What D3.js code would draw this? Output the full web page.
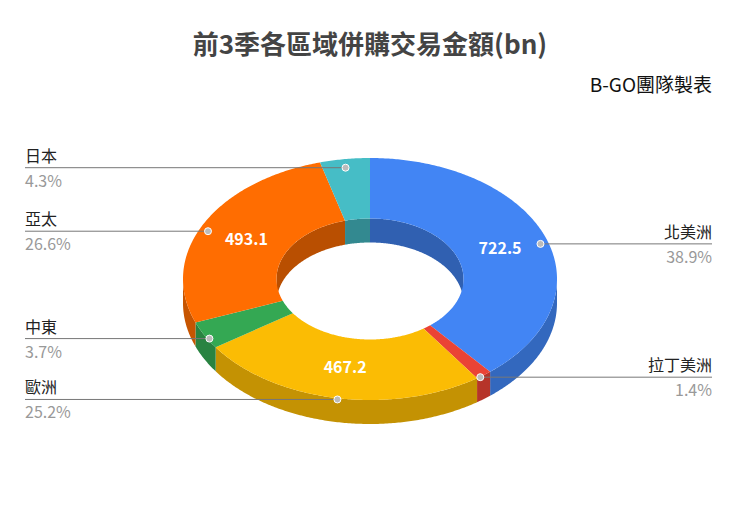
<!DOCTYPE html>
<head>
<meta charset="utf-8">
<script src="https://d3js.org/d3.v7.min.js"></script>
<style>
  body { margin: 0; background: #fff; }
  text { font-family: "Noto Sans CJK TC", "Noto Sans", sans-serif; }
</style>
</head>
<body>
<div id="chart"></div>
<script>
var regions = ["北美洲", "拉丁美洲", "歐洲", "中東", "亞太", "日本"];
var values = [722.5, 26.0, 467.2, 68.7, 493.1, 79.9];
var pctLabels = ["38.9%", "1.4%", "25.2%", "3.7%", "26.6%", "4.3%"];
var colors = ["#4285f4", "#ea4335", "#fbbc04", "#34a853", "#ff6d01", "#46bdc6"];
var sides = ["right", "right", "left", "left", "left", "left"];
var showValue = [true, false, true, false, true, false];

var width = 740, height = 526;
var cx = 370, cy = 279, rx = 187, ry = 121, inner = 0.5, depth = 24;

var svg = d3.select("#chart").append("svg")
  .attr("width", width).attr("height", height);

var pie = d3.pie().sort(null).value(d => d)(values);

function pt(r, a, dy) {
  return [cx + rx * r * Math.sin(a), cy - ry * r * Math.cos(a) + (dy || 0)];
}
function arcPts(r, a0, a1, dy) {
  var n = Math.max(2, Math.ceil((a1 - a0) / 0.01)), p = [];
  for (var i = 0; i <= n; i++) p.push(pt(r, a0 + (a1 - a0) * i / n, dy));
  return p;
}
var line = d3.line();

// outer walls (front half: angle between PI/2 and 3PI/2)
pie.forEach(function(d, i) {
  var a0 = Math.max(d.startAngle, Math.PI / 2), a1 = Math.min(d.endAngle, 3 * Math.PI / 2);
  if (a1 <= a0) return;
  var top = arcPts(1, a0, a1, 0), bot = arcPts(1, a0, a1, depth).reverse();
  svg.append("path").attr("d", line(top.concat(bot)) + "Z")
    .attr("fill", d3.color(colors[i]).darker(0.7));
});

// inner walls (back half of the hole)
pie.forEach(function(d, i) {
  var segs = [[d.startAngle, Math.min(d.endAngle, Math.PI / 2)],
              [Math.max(d.startAngle, 3 * Math.PI / 2), d.endAngle]];
  segs.forEach(function(s) {
    if (s[1] <= s[0]) return;
    var top = arcPts(inner, s[0], s[1], 0), bot = arcPts(inner, s[0], s[1], depth).reverse();
    svg.append("path").attr("d", line(top.concat(bot)) + "Z")
      .attr("fill", d3.color(colors[i]).darker(0.9));
  });
});

// top faces
pie.forEach(function(d, i) {
  var o = arcPts(1, d.startAngle, d.endAngle, 0),
      n = arcPts(inner, d.startAngle, d.endAngle, 0).reverse();
  svg.append("path").attr("d", line(o.concat(n)) + "Z")
    .attr("fill", colors[i]);
});

// values on slices
pie.forEach(function(d, i) {
  if (!showValue[i]) return;
  var p = pt(0.74, (d.startAngle + d.endAngle) / 2, 0);
  svg.append("text").attr("x", p[0]).attr("y", p[1] + 6)
    .attr("text-anchor", "middle").attr("fill", "#fff")
    .attr("font-size", 16).attr("font-weight", "bold")
    .text(values[i].toFixed(1));
});

// leader lines and labels
pie.forEach(function(d, i) {
  var p = pt(0.97, (d.startAngle + d.endAngle) / 2, 5);
  var right = sides[i] === "right";
  var x2 = right ? 712 : 25;
  svg.append("line").attr("x1", p[0]).attr("y1", p[1]).attr("x2", x2).attr("y2", p[1])
    .attr("stroke", "#777").attr("stroke-width", 1);
  svg.append("circle").attr("cx", p[0]).attr("cy", p[1]).attr("r", 3.5)
    .attr("fill", "#bbb").attr("stroke", "#fff").attr("stroke-width", 1);
  svg.append("text").attr("x", x2).attr("y", p[1] - 6)
    .attr("text-anchor", right ? "end" : "start")
    .attr("font-size", 16).attr("fill", "#222").text(regions[i]);
  svg.append("text").attr("x", x2).attr("y", p[1] + 19)
    .attr("text-anchor", right ? "end" : "start")
    .attr("font-size", 16).attr("fill", "#999").text(pctLabels[i]);
});

svg.append("text").attr("x", 370).attr("y", 54).attr("text-anchor", "middle")
  .attr("font-size", 26).attr("font-weight", "bold").attr("fill", "#444")
  .text("前3季各區域併購交易金額(bn)");
svg.append("text").attr("x", 712).attr("y", 92).attr("text-anchor", "end")
  .attr("font-size", 19).attr("fill", "#111").text("B-GO團隊製表");
</script>
</body>
</html>
